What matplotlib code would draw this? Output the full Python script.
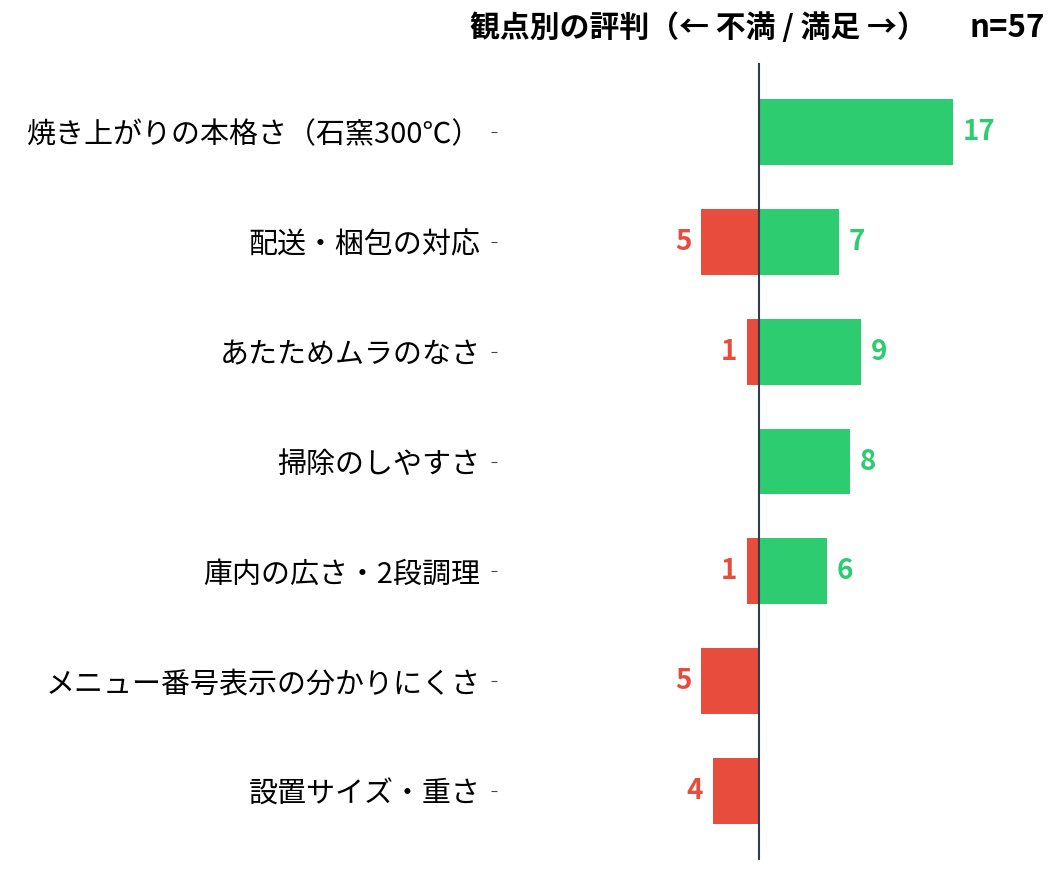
import matplotlib
matplotlib.use('Agg')
import matplotlib.pyplot as plt
import numpy as np

plt.rcParams['font.family'] = ['Noto Sans CJK JP', 'DejaVu Sans']

# data
aspects = ['焼き上がりの本格さ（石窯300℃）', '配送・梱包の対応', 'あたためムラのなさ',
           '掃除のしやすさ', '庫内の広さ・2段調理', 'メニュー番号表示の分かりにくさ',
           '設置サイズ・重さ']
negative = [0, 5, 1, 0, 1, 5, 4]
positive = [17, 7, 9, 8, 6, 0, 0]
n_total = 57

RED = '#e74c3c'
GREEN = '#2ecc71'
DARK = '#2c3e50'

fig = plt.figure(figsize=(10.61, 8.75), dpi=100)
ax = fig.add_axes([497 / 1061, 15 / 875, (1035 - 497) / 1061, (860 - 63) / 875])

y = np.arange(len(aspects))
neg = -np.array(negative)
pos = np.array(positive)

ax.barh(y, pos, height=0.6, color=GREEN)
ax.barh(y, neg, height=0.6, color=RED)
ax.axvline(0, color=DARK, linewidth=1.5)

for i in range(len(aspects)):
    if positive[i] > 0:
        ax.annotate(str(positive[i]), (pos[i], y[i]), xytext=(7, 0),
                    textcoords='offset points', ha='left', va='center',
                    color=GREEN, fontsize=20, fontweight='bold')
    if negative[i] > 0:
        ax.annotate(str(negative[i]), (neg[i], y[i]), xytext=(-7, 0),
                    textcoords='offset points', ha='right', va='center',
                    color=RED, fontsize=20, fontweight='bold')

ax.set_yticks(y)
ax.set_yticklabels(aspects, fontsize=20.9)
ax.set_ylim(6.63, -0.63)
ax.set_xlim(-22.9, 24.2)
ax.set_xticks([])
ax.tick_params(axis='y', length=4, pad=8, color='#444444')
for s in ax.spines.values():
    s.set_visible(False)

fig.text(470 / 1061, 1 - 28 / 875, '観点別の評判（← 不満 / 満足 →）', ha='left', va='center',
         fontsize=21.5, fontweight='bold')
fig.text(1045 / 1061, 1 - 28 / 875, f'n={n_total}', ha='right', va='center',
         fontsize=22.5, fontweight='bold')

fig.savefig('out.png', dpi=100)
